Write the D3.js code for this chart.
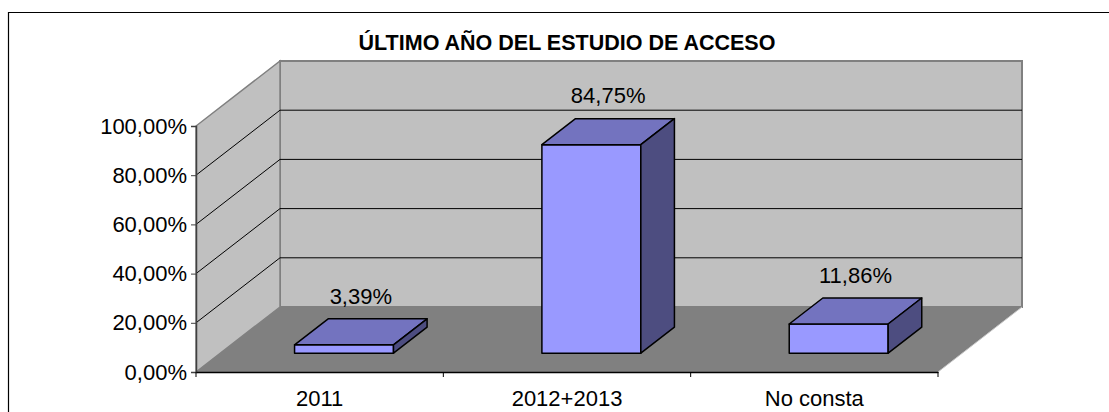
<!DOCTYPE html>
<html>

<head>
    <meta charset="utf-8">
    <style>
        body {
            margin: 0;
            background: #fff;
        }

        text {
            font-family: "Liberation Sans", Arial, sans-serif;
            fill: #000;
        }

        .tick-label,
        .cat-label,
        .val-label {
            font-size: 22px;
        }

        .title {
            font-size: 21.5px;
            font-weight: bold;
        }
    </style>
</head>

<body>
    <svg width="1109" height="412"></svg>
    <script src="https://cdn.jsdelivr.net/npm/d3@7"></script>
    <script>
        // data
        var categories = ["2011", "2012+2013", "No consta"];
        var values = [0.0339, 0.8475, 0.1186];
        var yTicks = [0, 0.2, 0.4, 0.6, 0.8, 1];
        var title = "ÚLTIMO AÑO DEL ESTUDIO DE ACCESO";

        var svg = d3.select("svg");

        // spanish number format: 84,75%
        var es = d3.formatLocale({ decimal: ",", thousands: ".", grouping: [3], currency: ["", " €"] });
        var pct = es.format(".2%");

        // front plane of the 3d box
        var plotLeft = 196, plotRight = 938, plotBottom = 372, plotTop = 126;
        var depth = [84, -65];        // wall depth offset
        var barD0 = 0.29, barD1 = 0.69; // bars sit in the middle of the floor

        var x = d3.scaleBand().domain(categories).range([plotLeft, plotRight]).paddingInner(0).paddingOuter(0);
        var y = d3.scaleLinear().domain([0, 1]).range([plotBottom, plotTop]);
        var barW = x.bandwidth() * 0.4;

        // outer chart border (cut at right / bottom)
        svg.append("path")
            .attr("d", "M8.5,412V12.5H1109")
            .attr("fill", "none")
            .attr("stroke", "#000")
            .attr("stroke-width", 1.2);

        svg.append("text")
            .attr("class", "title")
            .attr("x", 567)
            .attr("y", 50)
            .attr("text-anchor", "middle")
            .text(title);

        var g = svg.append("g");

        function pt(px, py) { return px + "," + py; }

        // back wall
        g.append("polygon")
            .attr("points", [pt(plotLeft + depth[0], y(1) + depth[1]), pt(plotRight + depth[0], y(1) + depth[1]),
                pt(plotRight + depth[0], y(0) + depth[1]), pt(plotLeft + depth[0], y(0) + depth[1])].join(" "))
            .attr("fill", "#c0c0c0")
            .attr("stroke", "#808080")
            .attr("stroke-width", 2);

        // side wall
        g.append("polygon")
            .attr("points", [pt(plotLeft, y(0)), pt(plotLeft, y(1)), pt(plotLeft + depth[0], y(1) + depth[1]),
                pt(plotLeft + depth[0], y(0) + depth[1])].join(" "))
            .attr("fill", "#c0c0c0")
            .attr("stroke", "#808080")
            .attr("stroke-width", 1.5);

        // gridlines (side + back)
        var inner = yTicks.filter(function(d) { return d > 0 && d < 1; });
        g.selectAll(".grid-side").data(inner).enter().append("line")
            .attr("x1", plotLeft).attr("y1", function(d) { return y(d); })
            .attr("x2", plotLeft + depth[0]).attr("y2", function(d) { return y(d) + depth[1]; })
            .attr("stroke", "#000").attr("stroke-width", 1);
        g.selectAll(".grid-back").data(inner).enter().append("line")
            .attr("x1", plotLeft + depth[0]).attr("y1", function(d) { return y(d) + depth[1]; })
            .attr("x2", plotRight + depth[0]).attr("y2", function(d) { return y(d) + depth[1]; })
            .attr("stroke", "#000").attr("stroke-width", 1);

        // floor
        g.append("polygon")
            .attr("points", [pt(plotLeft, y(0)), pt(plotRight, y(0)), pt(plotRight + depth[0], y(0) + depth[1]),
                pt(plotLeft + depth[0], y(0) + depth[1])].join(" "))
            .attr("fill", "#808080");
        g.append("line")
            .attr("x1", plotRight).attr("y1", y(0))
            .attr("x2", plotRight + depth[0]).attr("y2", y(0) + depth[1])
            .attr("stroke", "#c8c8c8").attr("stroke-width", 1);

        // bars
        var ox0 = depth[0] * barD0, oy0 = depth[1] * barD0;
        var bdx = depth[0] * (barD1 - barD0), bdy = depth[1] * (barD1 - barD0);
        var bars = g.selectAll(".bar").data(categories).enter().append("g").attr("class", "bar");

        bars.each(function(c, i) {
            var b = d3.select(this);
            var x0 = x(c) + x.bandwidth() / 2 - barW / 2 + ox0;
            var x1 = x0 + barW;
            var yb = y(0) + oy0;
            var yt = y(values[i]) + oy0;
            var style = function(sel, fill) {
                sel.attr("fill", fill).attr("stroke", "#000").attr("stroke-width", 1.5).attr("stroke-linejoin", "round");
            };
            b.append("polygon")
                .attr("points", [pt(x0, yb), pt(x1, yb), pt(x1, yt), pt(x0, yt)].join(" "))
                .call(style, "#9999ff");
            b.append("polygon")
                .attr("points", [pt(x0, yt), pt(x1, yt), pt(x1 + bdx, yt + bdy), pt(x0 + bdx, yt + bdy)].join(" "))
                .call(style, "#7373bf");
            b.append("polygon")
                .attr("points", [pt(x1, yb), pt(x1, yt), pt(x1 + bdx, yt + bdy), pt(x1 + bdx, yb + bdy)].join(" "))
                .call(style, "#4d4d80");

            b.append("text")
                .attr("class", "val-label")
                .attr("x", (x0 + x1) / 2 + bdx / 2)
                .attr("y", yt - 49)
                .attr("dy", "0.35em")
                .attr("text-anchor", "middle")
                .text(pct(values[i]));
        });

        // value axis
        var yAxis = d3.axisLeft(y).tickValues(yTicks).tickSize(5).tickPadding(4).tickFormat(pct);
        var ya = svg.append("g").attr("transform", "translate(" + plotLeft + ",0)").call(yAxis);
        ya.select(".domain").attr("stroke", "#404040").attr("stroke-width", 1.5);
        ya.selectAll(".tick line").attr("stroke", "#404040");
        ya.selectAll(".tick text").attr("class", "tick-label").attr("fill", "#000");
        ya.attr("font-family", null).attr("font-size", null);

        // category axis
        var xAxis = d3.axisBottom(x).tickSize(0).tickPadding(18);
        var xa = svg.append("g").attr("transform", "translate(0," + plotBottom + ")").call(xAxis);
        xa.select(".domain").attr("stroke", "#000").attr("stroke-width", 1.5);
        xa.selectAll(".tick text").attr("class", "cat-label").attr("fill", "#000");
        xa.attr("font-family", null).attr("font-size", null);
        xa.selectAll(".sep").data(d3.range(categories.length + 1)).enter().append("line")
            .attr("x1", function(i) { return plotLeft + i * x.step(); })
            .attr("x2", function(i) { return plotLeft + i * x.step(); })
            .attr("y1", 0).attr("y2", 5)
            .attr("stroke", "#000");
    </script>
</body>

</html>
